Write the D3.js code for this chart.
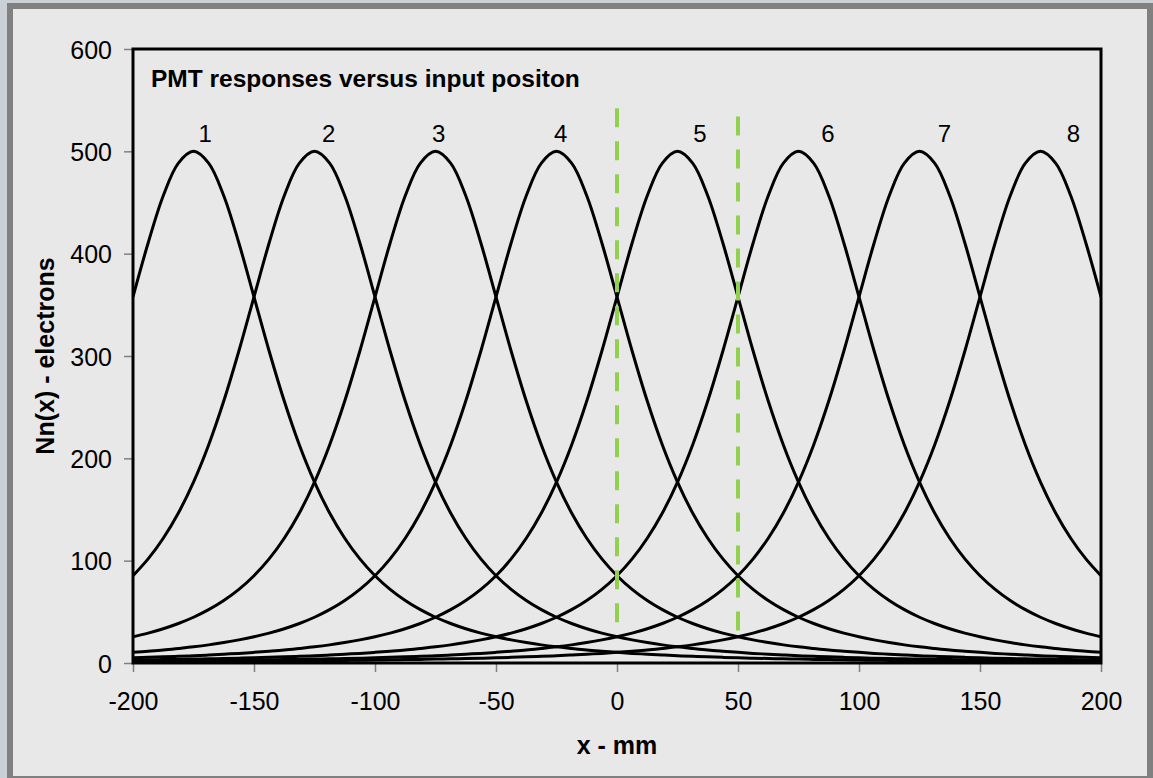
<!DOCTYPE html>
<html>
<head>
<meta charset="utf-8">
<script src="https://cdn.jsdelivr.net/npm/d3@7"></script>
<style>
  html, body { margin: 0; padding: 0; background: #cbd0d6; }
  svg { display: block; }
  text { font-family: "Liberation Sans", Arial, sans-serif; fill: #000; }
</style>
</head>
<body>
<svg id="chart" width="1153" height="778"></svg>
<script>
// Input positions (mm): -200 to 200 in 6.25 mm steps
const positions = [
  -200, -193.75, -187.5, -181.25, -175, -168.75, -162.5, -156.25, -150, -143.75, -137.5, -131.25, -125,
  -118.75, -112.5, -106.25, -100, -93.75, -87.5, -81.25, -75, -68.75, -62.5, -56.25, -50,
  -43.75, -37.5, -31.25, -25, -18.75, -12.5, -6.25, 0, 6.25, 12.5, 18.75, 25, 31.25, 37.5, 43.75, 50,
  56.25, 62.5, 68.75, 75, 81.25, 87.5, 93.75, 100, 106.25, 112.5, 118.75, 125, 131.25, 137.5, 143.75, 150,
  156.25, 162.5, 168.75, 175, 181.25, 187.5, 193.75, 200];

// Collected electrons for each PMT (1..8) at those positions
const pmt1 = [357.8, 410.4, 456.6, 488.5, 500, 488.5, 456.6, 410.4, 357.8, 304.9, 256, 213.1, 176.8, 146.6, 121.9, 101.7,
  85.3, 72.0, 61.1, 52.1, 44.7, 38.6, 33.5, 29.2, 25.6, 22.6, 20.0, 17.7, 15.8, 14.2, 12.7, 11.5, 10.4, 9.4, 8.6, 7.8,
  7.1, 6.5, 6.0, 5.5, 5.1, 4.7, 4.4, 4.1, 3.8, 3.5, 3.3, 3.1, 2.9, 2.7, 2.5, 2.4, 2.2, 2.1, 2.0, 1.9, 1.8, 1.7, 1.6,
  1.5, 1.4, 1.35, 1.3, 1.2, 1.15];
const pmt2 = [85.3, 101.7, 121.9, 146.6, 176.8, 213.1, 256, 304.9, 357.8, 410.4, 456.6, 488.5, 500,
  488.5, 456.6, 410.4, 357.8, 304.9, 256, 213.1, 176.8, 146.6, 121.9, 101.7, 85.3, 72.0, 61.1, 52.1, 44.7, 38.6, 33.5,
  29.2, 25.6, 22.6, 20.0, 17.7, 15.8, 14.2, 12.7, 11.5, 10.4, 9.4, 8.6, 7.8, 7.1, 6.5, 6.0, 5.5, 5.1, 4.7, 4.4, 4.1,
  3.8, 3.5, 3.3, 3.1, 2.9, 2.7, 2.5, 2.4, 2.2, 2.1, 2.0, 1.9, 1.8];
const pmt3 = [25.6, 29.2, 33.5, 38.6, 44.7, 52.1, 61.1, 72.0, 85.3, 101.7, 121.9, 146.6, 176.8, 213.1, 256, 304.9,
  357.8, 410.4, 456.6, 488.5, 500, 488.5, 456.6, 410.4, 357.8, 304.9, 256, 213.1, 176.8, 146.6, 121.9, 101.7, 85.3,
  72.0, 61.1, 52.1, 44.7, 38.6, 33.5, 29.2, 25.6, 22.6, 20.0, 17.7, 15.8, 14.2, 12.7, 11.5, 10.4, 9.4, 8.6, 7.8, 7.1,
  6.5, 6.0, 5.5, 5.1, 4.7, 4.4, 4.1, 3.8, 3.5, 3.3, 3.1, 2.9];
const pmt4 = [10.4, 11.5, 12.7, 14.2, 15.8, 17.7, 20.0, 22.6, 25.6, 29.2, 33.5, 38.6, 44.7, 52.1, 61.1, 72.0, 85.3,
  101.7, 121.9, 146.6, 176.8, 213.1, 256, 304.9, 357.8, 410.4, 456.6, 488.5, 500, 488.5, 456.6, 410.4, 357.8, 304.9,
  256, 213.1, 176.8, 146.6, 121.9, 101.7, 85.3, 72.0, 61.1, 52.1, 44.7, 38.6, 33.5, 29.2, 25.6, 22.6, 20.0, 17.7,
  15.8, 14.2, 12.7, 11.5, 10.4, 9.4, 8.6, 7.8, 7.1, 6.5, 6.0, 5.5, 5.1];
const pmt5 = [5.1, 5.5, 6.0, 6.5, 7.1, 7.8, 8.6, 9.4, 10.4, 11.5, 12.7, 14.2, 15.8, 17.7, 20.0, 22.6, 25.6, 29.2,
  33.5, 38.6, 44.7, 52.1, 61.1, 72.0, 85.3, 101.7, 121.9, 146.6, 176.8, 213.1, 256, 304.9, 357.8, 410.4, 456.6, 488.5,
  500, 488.5, 456.6, 410.4, 357.8, 304.9, 256, 213.1, 176.8, 146.6, 121.9, 101.7, 85.3, 72.0, 61.1, 52.1, 44.7, 38.6,
  33.5, 29.2, 25.6, 22.6, 20.0, 17.7, 15.8, 14.2, 12.7, 11.5, 10.4];
const pmt6 = [2.9, 3.1, 3.3, 3.5, 3.8, 4.1, 4.4, 4.7, 5.1, 5.5, 6.0, 6.5, 7.1, 7.8, 8.6, 9.4, 10.4, 11.5, 12.7, 14.2,
  15.8, 17.7, 20.0, 22.6, 25.6, 29.2, 33.5, 38.6, 44.7, 52.1, 61.1, 72.0, 85.3, 101.7, 121.9, 146.6, 176.8, 213.1, 256,
  304.9, 357.8, 410.4, 456.6, 488.5, 500, 488.5, 456.6, 410.4, 357.8, 304.9, 256, 213.1, 176.8, 146.6, 121.9, 101.7,
  85.3, 72.0, 61.1, 52.1, 44.7, 38.6, 33.5, 29.2, 25.6];
const pmt7 = [1.8, 1.9, 2.0, 2.1, 2.2, 2.4, 2.5, 2.7, 2.9, 3.1, 3.3, 3.5, 3.8, 4.1, 4.4, 4.7, 5.1, 5.5, 6.0, 6.5, 7.1,
  7.8, 8.6, 9.4, 10.4, 11.5, 12.7, 14.2, 15.8, 17.7, 20.0, 22.6, 25.6, 29.2, 33.5, 38.6, 44.7, 52.1, 61.1, 72.0, 85.3,
  101.7, 121.9, 146.6, 176.8, 213.1, 256, 304.9, 357.8, 410.4, 456.6, 488.5, 500, 488.5, 456.6, 410.4, 357.8, 304.9,
  256, 213.1, 176.8, 146.6, 121.9, 101.7, 85.3];
const pmt8 = [1.15, 1.2, 1.3, 1.35, 1.4, 1.5, 1.6, 1.7, 1.8, 1.9, 2.0, 2.1, 2.2, 2.4, 2.5, 2.7, 2.9, 3.1, 3.3, 3.5,
  3.8, 4.1, 4.4, 4.7, 5.1, 5.5, 6.0, 6.5, 7.1, 7.8, 8.6, 9.4, 10.4, 11.5, 12.7, 14.2, 15.8, 17.7, 20.0, 22.6, 25.6,
  29.2, 33.5, 38.6, 44.7, 52.1, 61.1, 72.0, 85.3, 101.7, 121.9, 146.6, 176.8, 213.1, 256, 304.9, 357.8, 410.4, 456.6,
  488.5, 500, 488.5, 456.6, 410.4, 357.8];

// PMT number labels and where they sit (mm, electrons)
const pmtNames = ["1", "2", "3", "4", "5", "6", "7", "8"];
const nameX = [-170.2, -119.1, -73.7, -23.3, 34.3, 87.2, 135.3, 188.6];
const nameY = 509;

// Dashed reference positions (mm) and their extent (electrons)
const markerX = [0, 50];
const markerTop = [542, 534];
const markerBottom = [31, 23];

// Axis ticks
const xTicks = [-200, -150, -100, -50, 0, 50, 100, 150, 200];
const yTicks = [0, 100, 200, 300, 400, 500, 600];

const titleText = "PMT responses versus input positon";
const xTitle = "x - mm";
const yTitle = "Nn(x) - electrons";

const series = [pmt1, pmt2, pmt3, pmt4, pmt5, pmt6, pmt7, pmt8];

const svg = d3.select("#chart");
const W = 1153, H = 778;

// Frame: dark border and light grey panel
svg.append("rect").attr("x", 7).attr("y", 3).attr("width", W - 7).attr("height", H - 3).attr("fill", "#808080");
svg.append("rect").attr("x", 13).attr("y", 9).attr("width", 1134).attr("height", 767).attr("fill", "#e8e8e8");

const plot = { left: 133, right: 1101, top: 49, bottom: 663 };
const x = d3.scaleLinear().domain([-200, 200]).range([plot.left, plot.right]);
const y = d3.scaleLinear().domain([0, 600]).range([plot.bottom, plot.top]);

svg.append("defs").append("clipPath").attr("id", "plotClip")
  .append("rect").attr("x", plot.left).attr("y", plot.top)
  .attr("width", plot.right - plot.left).attr("height", plot.bottom - plot.top);

// Axes with grey tick marks; plain hyphen for negatives
const fmt = d => String(d);
const yAxis = d3.axisLeft(y).tickValues(yTicks).tickSize(9).tickPadding(12).tickFormat(fmt);
const xAxis = d3.axisBottom(x).tickValues(xTicks).tickSize(9).tickPadding(20).tickFormat(fmt);

const gy = svg.append("g").attr("transform", `translate(${plot.left},0)`).call(yAxis);
const gx = svg.append("g").attr("transform", `translate(0,${plot.bottom})`).call(xAxis);
[gx, gy].forEach(g => {
  g.select(".domain").remove();
  g.selectAll(".tick line").attr("stroke", "#808080").attr("stroke-width", 1.5);
  g.selectAll(".tick text").attr("font-size", 25).attr("font-family", "Liberation Sans, Arial, sans-serif").attr("fill", "#000");
});
gy.selectAll(".tick text").attr("dy", "0.36em");

// Response curves
const line = d3.line()
  .x((d, i) => x(positions[i]))
  .y(d => y(d))
  .curve(d3.curveCatmullRom.alpha(0.5));

svg.append("g").attr("clip-path", "url(#plotClip)")
  .selectAll("path.curve").data(series).join("path")
  .attr("class", "curve")
  .attr("d", line)
  .attr("fill", "none")
  .attr("stroke", "#000")
  .attr("stroke-width", 3)
  .attr("stroke-linejoin", "round");

// Dashed green markers
svg.append("g").selectAll("line.marker").data(markerX).join("line")
  .attr("class", "marker")
  .attr("x1", d => x(d)).attr("x2", d => x(d))
  .attr("y1", (d, i) => y(markerTop[i])).attr("y2", (d, i) => y(markerBottom[i]))
  .attr("stroke", "#92d050")
  .attr("stroke-width", 4)
  .attr("stroke-dasharray", "19 14");

// Plot frame
svg.append("rect")
  .attr("x", plot.left).attr("y", plot.top)
  .attr("width", plot.right - plot.left).attr("height", plot.bottom - plot.top)
  .attr("fill", "none").attr("stroke", "#000").attr("stroke-width", 3);

// PMT number labels
svg.append("g").selectAll("text.name").data(pmtNames).join("text")
  .attr("class", "name")
  .attr("x", (d, i) => x(nameX[i]))
  .attr("y", y(nameY))
  .attr("text-anchor", "middle")
  .attr("font-size", 24)
  .text(d => d);

// Titles
svg.append("text")
  .attr("x", 151).attr("y", 87)
  .attr("font-size", 24.5).attr("font-weight", "bold")
  .text(titleText);

svg.append("text")
  .attr("x", (plot.left + plot.right) / 2).attr("y", 754)
  .attr("text-anchor", "middle")
  .attr("font-size", 25).attr("font-weight", "bold")
  .text(xTitle);

svg.append("text")
  .attr("transform", `translate(54,${(plot.top + plot.bottom) / 2}) rotate(-90)`)
  .attr("text-anchor", "middle")
  .attr("font-size", 25).attr("font-weight", "bold")
  .text(yTitle);
</script>
</body>
</html>
